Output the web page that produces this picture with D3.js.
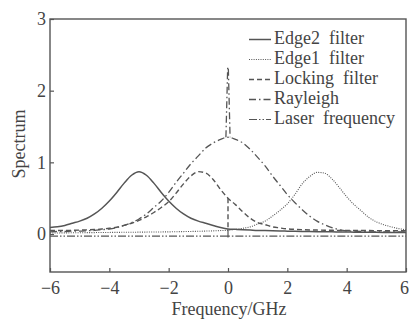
<!DOCTYPE html>
<html>
<head>
<meta charset="utf-8">
<script src="https://cdn.jsdelivr.net/npm/d3@7"></script>
<style>
  body { margin: 0; background: #fff; }
  text { font-family: "Liberation Serif", "Times New Roman", serif; fill: #444; }
</style>
</head>
<body>
<div id="chart"></div>
<script>
// Frequency grid (GHz)
var freq = [-6, -5.75, -5.5, -5.25, -5, -4.75, -4.5, -4.25, -4, -3.75, -3.5, -3.25, -3,
    -2.75, -2.5, -2.25, -2, -1.75, -1.5, -1.25, -1, -0.75, -0.5, -0.25, 0,
    0.25, 0.5, 0.75, 1, 1.25, 1.5, 1.75, 2, 2.25, 2.5, 2.75, 3,
    3.25, 3.5, 3.75, 4, 4.25, 4.5, 4.75, 5, 5.25, 5.5, 5.75, 6];

// Series values
var edge2 = [0.09, 0.10, 0.12, 0.15, 0.18, 0.22, 0.28, 0.36, 0.46, 0.58, 0.71, 0.82, 0.87,
    0.82, 0.71, 0.58, 0.46, 0.36, 0.28, 0.22, 0.18, 0.15, 0.12, 0.09, 0.07,
    0.065, 0.06, 0.055, 0.05, 0.048, 0.045, 0.042, 0.04, 0.038, 0.036, 0.034, 0.032,
    0.03, 0.03, 0.028, 0.027, 0.026, 0.025, 0.024, 0.023, 0.022, 0.021, 0.02, 0.02];

var edge1 = [0.015, 0.015, 0.016, 0.017, 0.018, 0.019, 0.02, 0.021, 0.022, 0.023, 0.024, 0.025, 0.026,
    0.027, 0.028, 0.029, 0.03, 0.032, 0.034, 0.036, 0.038, 0.041, 0.044, 0.048, 0.052,
    0.065, 0.08, 0.10, 0.14, 0.18, 0.25, 0.33, 0.42, 0.55, 0.70, 0.80, 0.86,
    0.85, 0.77, 0.65, 0.52, 0.41, 0.32, 0.23, 0.17, 0.13, 0.10, 0.075, 0.06];

var locking = [0.05, 0.05, 0.05, 0.052, 0.055, 0.058, 0.062, 0.07, 0.08, 0.095, 0.12, 0.15, 0.19,
    0.24, 0.30, 0.37, 0.45, 0.57, 0.70, 0.81, 0.87, 0.85, 0.76, 0.62, 0.50,
    0.41, 0.31, 0.22, 0.16, 0.13, 0.10, 0.085, 0.072, 0.065, 0.06, 0.057, 0.055,
    0.053, 0.052, 0.05, 0.05, 0.05, 0.048, 0.048, 0.047, 0.046, 0.045, 0.045, 0.045];

var rayleigh = [0.03, 0.035, 0.035, 0.04, 0.04, 0.045, 0.05, 0.06, 0.07, 0.09, 0.12, 0.16, 0.21,
    0.28, 0.37, 0.46, 0.58, 0.72, 0.85, 0.98, 1.09, 1.20, 1.27, 1.32, 1.35,
    1.32, 1.27, 1.18, 1.07, 0.95, 0.81, 0.68, 0.55, 0.44, 0.34, 0.25, 0.18,
    0.13, 0.09, 0.06, 0.045, 0.04, 0.035, 0.03, 0.03, 0.03, 0.03, 0.03, 0.03];

// Narrow peak of the Rayleigh line at 0 GHz
var spikeFreq = [-0.07, -0.01, 0.01, 0.07];
var spikeValue = [1.35, 2.33, 2.33, 1.35];

// Locking point mark at 0 GHz
var lockFreq = [0, 0];
var lockValue = [0.50, 0.05];

// Laser frequency line
var laserFreq = [-6, 0, 0, 0, 0, 6];
var laserValue = [-0.03, -0.03, 0.08, -0.05, -0.03, -0.03];

var xTicks = [-6, -4, -2, 0, 2, 4, 6];
var yTicks = [0, 1, 2, 3];

var legendLabels = ["Edge2\u2002filter", "Edge1\u2002filter", "Locking\u2002filter", "Rayleigh", "Laser\u2002frequency"];

var width = 409, height = 320;
var margin = { top: 19, right: 3, bottom: 48, left: 50 };
var ink = "#555";

var svg = d3.select("#chart").append("svg")
    .attr("width", width)
    .attr("height", height);

var x = d3.scaleLinear().domain([-6, 6]).range([margin.left, width - margin.right]);
var y = d3.scaleLinear().domain([-0.53, 3]).range([height - margin.bottom, margin.top]);

// Styles per series
var styles = {
    edge2: { dash: null, w: 1.5 },
    edge1: { dash: "1,1.3", w: 1.1 },
    locking: { dash: "5,3", w: 1.4 },
    rayleigh: { dash: "7,3,1.5,3", w: 1.3 },
    laser: { dash: "8,2,1.5,2,1.5,2", w: 1.2 }
};

var line = d3.line()
    .x(function(d) { return x(d[0]); })
    .y(function(d) { return y(d[1]); })
    .curve(d3.curveMonotoneX);

var straight = d3.line()
    .x(function(d) { return x(d[0]); })
    .y(function(d) { return y(d[1]); });

function pairs(xs, ys) {
    return xs.map(function(v, i) { return [v, ys[i]]; });
}

function draw(points, style, gen) {
    svg.append("path")
        .attr("d", (gen || line)(points))
        .attr("fill", "none")
        .attr("stroke", ink)
        .attr("stroke-width", style.w)
        .attr("stroke-dasharray", style.dash);
}

draw(pairs(laserFreq, laserValue), styles.laser, straight);
draw(pairs(freq, rayleigh), styles.rayleigh);
draw(pairs(spikeFreq, spikeValue), styles.rayleigh, straight);
draw(pairs(freq, locking), styles.locking);
draw(pairs(lockFreq, lockValue), styles.locking, straight);
draw(pairs(freq, edge1), styles.edge1);
draw(pairs(freq, edge2), styles.edge2);

// Frame
svg.append("rect")
    .attr("x", x(-6))
    .attr("y", y(3))
    .attr("width", x(6) - x(-6))
    .attr("height", y(-0.53) - y(3))
    .attr("fill", "none")
    .attr("stroke", ink)
    .attr("stroke-width", 1.4);

// Axes with inward ticks
var xAxis = svg.append("g")
    .attr("transform", "translate(0," + y(-0.53) + ")")
    .call(d3.axisBottom(x).tickValues(xTicks).tickSizeInner(-4).tickSizeOuter(0).tickPadding(9)
        .tickFormat(function(d) { return d < 0 ? "\u2212" + Math.abs(d) : d; }));

var yAxis = svg.append("g")
    .attr("transform", "translate(" + x(-6) + ",0)")
    .call(d3.axisLeft(y).tickValues(yTicks).tickSizeInner(-4).tickSizeOuter(0).tickPadding(4)
        .tickFormat(d3.format("d")));

[xAxis, yAxis].forEach(function(g) {
    g.select(".domain").remove();
    g.selectAll(".tick line").attr("stroke", ink).attr("stroke-width", 1.2);
    g.selectAll(".tick text")
        .style("font-family", "'Liberation Serif', serif")
        .style("font-size", "18px")
        .attr("fill", "#444");
});
// keep the last label inside the page
xAxis.selectAll(".tick text").filter(function(d) { return d === 6; }).attr("dx", -2);

// Axis titles
svg.append("text")
    .attr("x", 229)
    .attr("y", 315)
    .attr("text-anchor", "middle")
    .style("font-size", "18px")
    .text("Frequency/GHz");

svg.append("text")
    .attr("transform", "translate(25,144) rotate(-90)")
    .attr("text-anchor", "middle")
    .style("font-size", "18px")
    .text("Spectrum");

// Legend
var legendKeys = ["edge2", "edge1", "locking", "rayleigh", "laser"];
var legend = svg.append("g");
legendKeys.forEach(function(k, i) {
    var ly = 39.5 + i * 20;
    legend.append("line")
        .attr("x1", 249).attr("x2", 271)
        .attr("y1", ly).attr("y2", ly)
        .attr("stroke", ink)
        .attr("stroke-width", styles[k].w)
        .attr("stroke-dasharray", styles[k].dash);
    legend.append("text")
        .attr("x", 274)
        .attr("y", ly + 4.5)
        .style("font-size", "18px")
        .text(legendLabels[i]);
});
</script>
</body>
</html>
